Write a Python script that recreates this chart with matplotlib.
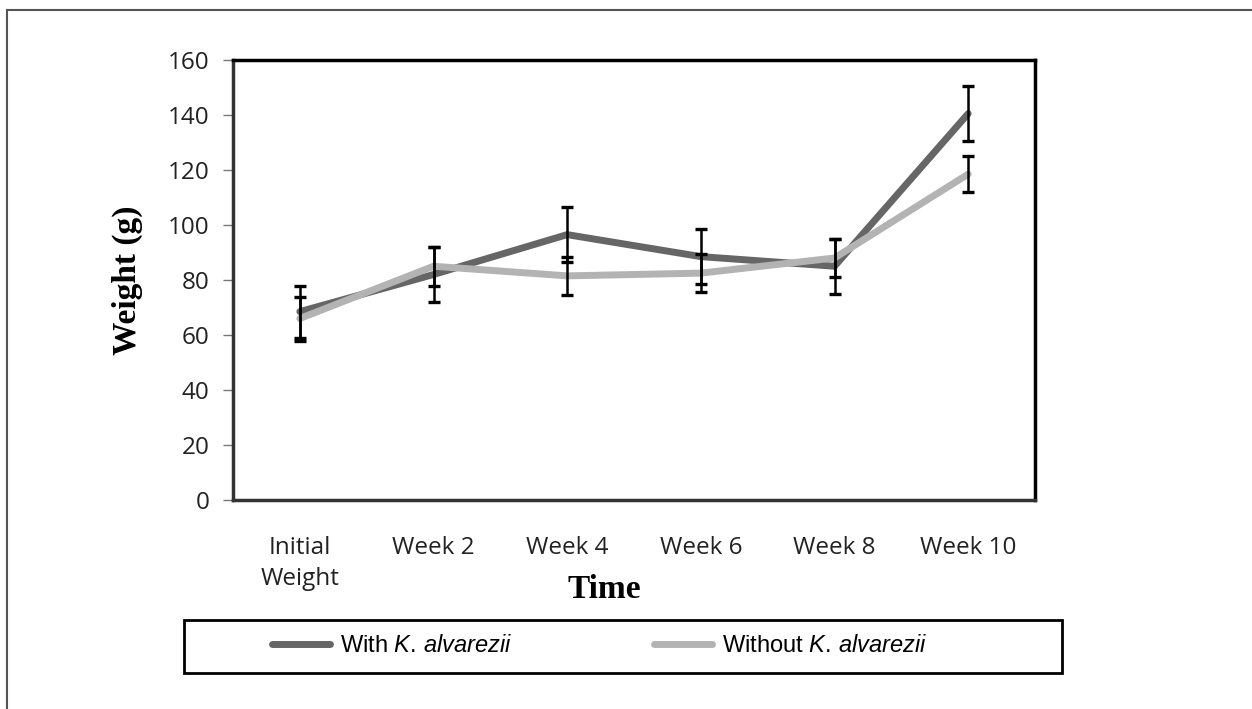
import matplotlib
matplotlib.use("Agg")
import matplotlib.pyplot as plt
from matplotlib.lines import Line2D
from matplotlib.patches import Rectangle

# data
categories = ["Initial\nWeight", "Week 2", "Week 4", "Week 6", "Week 8", "Week 10"]
with_ka = [68.5, 82, 96.5, 88.5, 85, 140.5]
with_ka_err = [9.5, 10, 10, 10, 10, 10]
without_ka = [66, 85, 81.5, 82.5, 88, 118.5]
without_ka_err = [8, 7, 7, 7, 7, 6.5]
yticks = [0, 20, 40, 60, 80, 100, 120, 140, 160]

plt.rcParams["mathtext.fontset"] = "custom"
plt.rcParams["mathtext.rm"] = "Liberation Sans"
plt.rcParams["mathtext.it"] = "Liberation Sans:italic"

fig = plt.figure(figsize=(12.52, 7.09), dpi=100)
ax = fig.add_axes([233 / 1252, 1 - 500 / 709, 802 / 1252, 440 / 709])

x = list(range(len(categories)))
dark = "#666666"
light = "#b3b3b3"

ax.plot(x, with_ka, color=dark, lw=5, solid_capstyle="round", zorder=2)
ax.plot(x, without_ka, color=light, lw=5, solid_capstyle="round", zorder=2.1)
ax.errorbar(x, with_ka, yerr=with_ka_err, fmt="none", ecolor="black",
            elinewidth=1.8, capsize=4.5, capthick=2.4, zorder=3)
ax.errorbar(x, without_ka, yerr=without_ka_err, fmt="none", ecolor="black",
            elinewidth=1.8, capsize=4.5, capthick=2.4, zorder=3)

ax.set_xlim(-0.5, len(categories) - 0.5)
ax.set_ylim(0, 160)
ax.set_yticks(yticks)
ax.set_xticks(x)
ax.set_xticklabels(categories, fontfamily="Open Sans", fontsize=17.5, color="#222222",
                   linespacing=1.4)
ax.set_yticklabels([str(v) for v in yticks], fontfamily="Open Sans", fontsize=17.5,
                   color="#222222")
ax.tick_params(axis="x", length=0, pad=26)
ax.tick_params(axis="y", length=7, width=1, color="#777777", pad=10)

for side in ["top", "right"]:
    ax.spines[side].set_linewidth(2.5)
    ax.spines[side].set_color("black")
for side in ["left", "bottom"]:
    ax.spines[side].set_linewidth(2.5)
    ax.spines[side].set_color("#333333")

ax.set_ylabel("Weight (g)", fontfamily="Liberation Serif", fontweight="bold", fontsize=24)
ax.yaxis.set_label_coords((143 - 233) / 802, 0.5)
ax.set_xlabel("Time", fontfamily="Liberation Serif", fontweight="bold", fontsize=24, va="center")
ax.xaxis.set_label_coords((604 - 233) / 802, (500 - 590) / 440)

# legend box
fig.patches.append(Rectangle((184 / 1252, 1 - 673 / 709), 878 / 1252, 53 / 709,
                             transform=fig.transFigure, fill=False,
                             edgecolor="black", lw=2))
handles = [Line2D([], [], color=dark, lw=5, solid_capstyle="round"),
           Line2D([], [], color=light, lw=5, solid_capstyle="round")]
labels = [r"With $\it{K.\,alvarezii}$", r"Without $\it{K.\,alvarezii}$"]
fig.legend(handles, labels, loc="center left", bbox_to_anchor=(272 / 1252, 1 - 646 / 709),
           ncol=2, frameon=False, handlelength=2.45, handletextpad=0.42,
           columnspacing=6.0, borderpad=0, borderaxespad=0,
           prop={"family": "Liberation Sans", "size": 17})

# outer frame (only left and top edges are visible)
fig.lines.append(Line2D([7 / 1252, 7 / 1252], [0, 1 - 10 / 709], transform=fig.transFigure,
                        color="#555555", lw=1.5))
fig.lines.append(Line2D([7 / 1252, 1], [1 - 10 / 709, 1 - 10 / 709], transform=fig.transFigure,
                        color="#555555", lw=1.5))

fig.savefig("out.png", dpi=100)
